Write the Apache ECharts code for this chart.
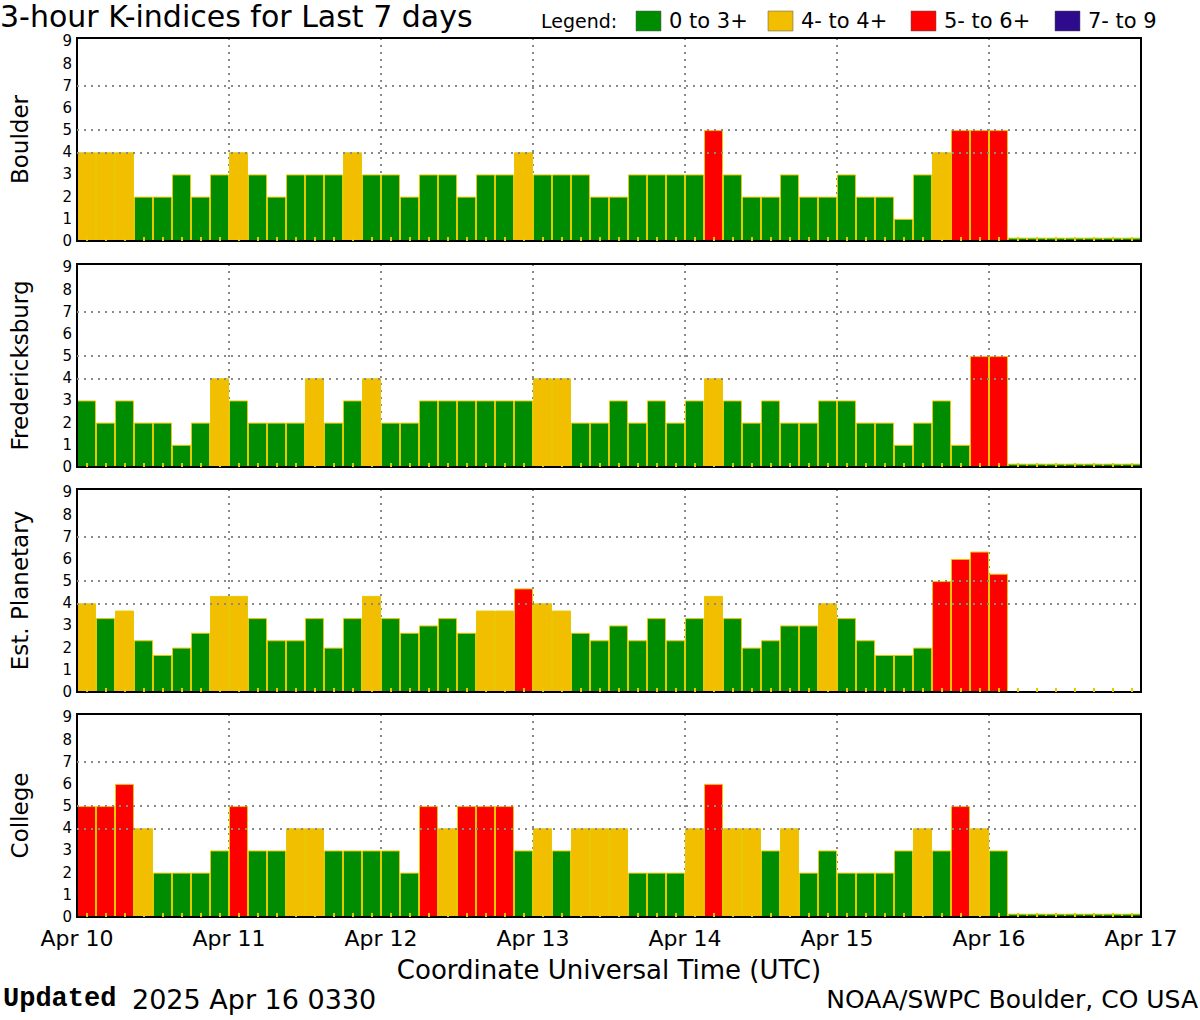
<!DOCTYPE html>
<html>
<head>
<meta charset="utf-8">
<script src="https://cdn.jsdelivr.net/npm/echarts@6/dist/echarts.min.js"></script>
<style>
html,body{margin:0;padding:0;background:#fff;}
#c{width:1200px;height:1020px;}
</style>
</head>
<body>
<div id="c"></div>
<script>
// ---- data ----
const dayLabels = ['Apr 10','Apr 11','Apr 12','Apr 13','Apr 14','Apr 15','Apr 16','Apr 17'];
const hours = ['00','03','06','09','12','15','18','21'];
const stationNames = ['Boulder','Fredericksburg','Est. Planetary','College'];
const yTicks = [0,1,2,3,4,5,6,7,8,9];
const thresholdLines = [4,5,7];
const legendLabels = ['0 to 3+','4- to 4+','5- to 6+','7- to 9'];

const boulder = [4,4,4,2,2,3,2,3, 4,3,2,3,3,3,4,3, 3,2,3,3,2,3,3,4, 3,3,3,2,2,3,3,3,
                 3,5,3,2,2,3,2,2, 3,2,2,1,3,4,5,5, 5,0.15,0.15,0.15,0.15,0.15,0.15,0.15];
const fredericksburg = [3,2,3,2,2,1,2,4, 3,2,2,2,4,2,3,4, 2,2,3,3,3,3,3,3, 4,4,2,2,3,2,3,2,
                 3,4,3,2,3,2,2,3, 3,2,2,1,2,3,1,5, 5,0.15,0.15,0.15,0.15,0.15,0.15,0.15];
const planetary = [4,3.33,3.67,2.33,1.67,2,2.67,4.33, 4.33,3.33,2.33,2.33,3.33,2,3.33,4.33,
                 3.33,2.67,3,3.33,2.67,3.67,3.67,4.67, 4,3.67,2.67,2.33,3,2.33,3.33,2.33,
                 3.33,4.33,3.33,2,2.33,3,3,4, 3.33,2.33,1.67,1.67,2,5,6,6.33,
                 5.33,null,null,null,null,null,null,null];
const college = [5,5,6,4,2,2,2,3, 5,3,3,4,4,3,3,3, 3,2,5,4,5,5,5,3, 4,3,4,4,4,2,2,2,
                 4,6,4,4,3,4,2,3, 2,2,2,3,4,3,5,4, 3,0.15,0.15,0.15,0.15,0.15,0.15,0.15];
const panelValues = [boulder, fredericksburg, planetary, college];

// ---- styles ----
const COLORS = ['#008C00','#F2BE00','#FF0000','#2E0A8C'];
function kColor(v){
  if (v < 3.5) return COLORS[0];
  if (v < 4.5) return COLORS[1];
  if (v < 6.5) return COLORS[2];
  return COLORS[3];
}
const FONT = 'DejaVu Sans';
const slots = [];
dayLabels.slice(0,7).forEach(d => hours.forEach(h => slots.push(d + ' ' + h)));

const tops = [38, 264, 489, 714];
const H = 203;
const grids = [], xAxes = [], yAxes = [], series = [];
const dotted = {color:'#8a8a8a', type:[2,5], width:2};

panelValues.forEach((vals, i) => {
  const last = i === panelValues.length - 1;
  grids.push({left:73, right:59, top:tops[i], height:H, show:true,
    borderColor:'#000', borderWidth:2, backgroundColor:'transparent', z:3});
  xAxes.push({type:'category', gridIndex:i, data:slots, boundaryGap:true, z:10,
    axisLine:{show:true, lineStyle:{color:'#000', width:2}},
    axisTick:{show:true, inside:true, alignWithLabel:true, interval:0, length:4,
              lineStyle:{color:'#E8C800', width:2}},
    axisLabel:{show:false, interval:0}, splitLine:{show:false}});
  xAxes.push({type:'value', gridIndex:i, min:0, max:7, interval:1, position:'bottom',
    axisLine:{show:false}, axisTick:{show:false},
    splitLine:{show:true, lineStyle:dotted},
    axisLabel:{show:last, formatter:v => dayLabels[v], fontFamily:FONT, fontSize:22,
               color:'#000', margin:10},
    name: last ? 'Coordinate Universal Time (UTC)' : '',
    nameLocation:'middle', nameGap:40,
    nameTextStyle:{fontFamily:FONT, fontSize:26, color:'#000'}});
  yAxes.push({type:'value', gridIndex:i, min:0, max:9.15, interval:1,
    name:stationNames[i], nameLocation:'middle', nameRotate:90, nameGap:46,
    nameTextStyle:{fontFamily:FONT, fontSize:23, color:'#000'},
    axisLine:{show:false}, axisTick:{show:false}, splitLine:{show:false},
    axisLabel:{showMaxLabel:false, formatter:v => (yTicks.indexOf(v) >= 0 ? String(v) : ''),
               fontFamily:FONT, fontSize:15, lineHeight:15, color:'#000', margin:5}});
  series.push({type:'bar', name:stationNames[i], xAxisIndex:2*i, yAxisIndex:i,
    barCategoryGap:'0%', z:2, animation:false,
    itemStyle:{borderColor:'#E8C800', borderWidth:1},
    data: vals.map(v => v == null ? null : {value:v, itemStyle:{color:kColor(v)}})});
  series.push({type:'line', xAxisIndex:2*i+1, yAxisIndex:i, data:[], z:1,
    silent:true, animation:false,
    markLine:{silent:true, symbol:'none', animation:false, label:{show:false},
              lineStyle:dotted, data:thresholdLines.map(t => ({yAxis:t}))}});
});

// legend graphics
const legendX = [636, 768, 911, 1055];
const graphic = [
  {type:'text', x:541, y:21, style:{text:'Legend:', font:'19px ' + FONT, fill:'#000', verticalAlign:'middle'}}
];
legendLabels.forEach((lab, k) => {
  graphic.push({type:'rect', shape:{x:legendX[k], y:11, width:25, height:20},
    style:{fill:COLORS[k], stroke:'#555', lineWidth:0.5}});
  graphic.push({type:'text', x:legendX[k] + 33, y:21,
    style:{text:lab, font:'21px ' + FONT, fill:'#000', verticalAlign:'middle'}});
});
graphic.push({type:'text', x:3, y:999, style:{text:'Updated', font:'bold 27px "Liberation Mono"', fill:'#000', verticalAlign:'middle'}});
graphic.push({type:'text', x:132, y:999, style:{text:'2025 Apr 16 0330', font:'27px ' + FONT, fill:'#000', verticalAlign:'middle'}});
graphic.push({type:'text', x:1198, y:999, style:{text:'NOAA/SWPC Boulder, CO USA', font:'25px ' + FONT, fill:'#000', align:'right', verticalAlign:'middle'}});

const chart = echarts.init(document.getElementById('c'), null, {renderer:'svg'});
chart.setOption({
  animation:false,
  backgroundColor:'#fff',
  title:{text:'3-hour K-indices for Last 7 days', left:0, top:1, padding:0,
    textStyle:{fontFamily:FONT, fontSize:30, lineHeight:30, fontWeight:'normal', color:'#000'}},
  grid:grids, xAxis:xAxes, yAxis:yAxes, series:series, graphic:graphic
});
</script>
</body>
</html>
